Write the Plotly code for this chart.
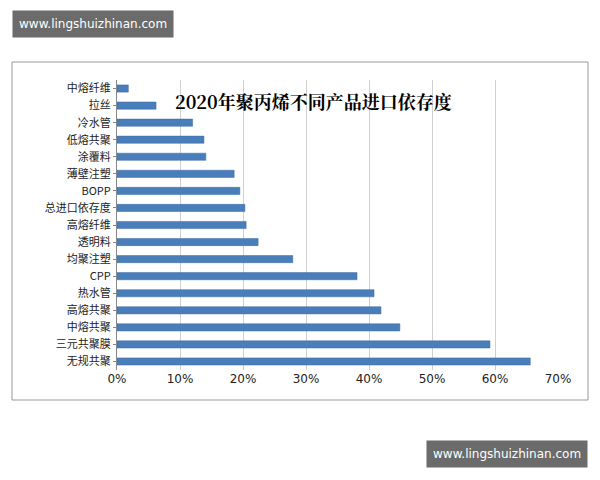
import plotly.graph_objects as go

categories = ["中熔纤维","拉丝","冷水管","低熔共聚","涂覆料","薄壁注塑","BOPP","总进口依存度","高熔纤维","透明料","均聚注塑","CPP","热水管","高熔共聚","中熔共聚","三元共聚膜","无规共聚"]
values = [1.8,6.2,12.0,13.8,14.1,18.6,19.5,20.3,20.5,22.4,27.9,38.1,40.8,41.9,44.9,59.2,65.6]

OFF = 8  # page offset
W, H = 600, 480
L, R, T, B = 117-OFF, 42+OFF, 80-OFF, 110+OFF
pw, ph = W-L-R, H-T-B
px = lambda x: (x-OFF-L)/pw
py = lambda y: (H-B-(y-OFF))/ph

fig = go.Figure(go.Bar(y=categories, x=values, orientation="h",
    marker=dict(color="#4a7ebb", line=dict(color="#3a6aa5", width=0.5)), width=0.42))
ann = dict(xref="paper", yref="paper", showarrow=False, xanchor="center", yanchor="middle")
fig.update_layout(
    width=W, height=H, margin=dict(l=L, r=R, t=T, b=B),
    paper_bgcolor="white", plot_bgcolor="white", showlegend=False,
    font=dict(family="Noto Sans CJK SC", size=11, color="#222"),
    xaxis=dict(range=[0,70], dtick=10, ticksuffix="%",
               showgrid=True, gridcolor="#d0d0d0", zeroline=False, showline=False,
               tickfont=dict(size=12, family="DejaVu Sans")),
    yaxis=dict(autorange="reversed", showline=True, linecolor="#888", ticks="outside",
               ticklen=3, tickcolor="#888", tickfont=dict(size=11)),
    shapes=[dict(type="rect", xref="paper", yref="paper", x0=px(12), x1=px(588),
                 y0=py(400), y1=py(62), line=dict(color="#999", width=1))],
    annotations=[
        dict(text="<b>2020年聚丙烯不同产品进口依存度</b>", x=px(313), y=py(101),
             font=dict(size=18, family="Noto Serif CJK SC, Noto Sans CJK SC", color="black"), **ann),
        dict(text="www.lingshuizhinan.com", x=px(93), y=py(24), bgcolor="#6b6b6b",
             font=dict(color="white", size=12, family="DejaVu Sans"), borderpad=6, **ann),
        dict(text="www.lingshuizhinan.com", x=px(507), y=py(454), bgcolor="#6b6b6b",
             font=dict(color="white", size=12, family="DejaVu Sans"), borderpad=6, **ann),
    ])
fig.write_html("out.html")
